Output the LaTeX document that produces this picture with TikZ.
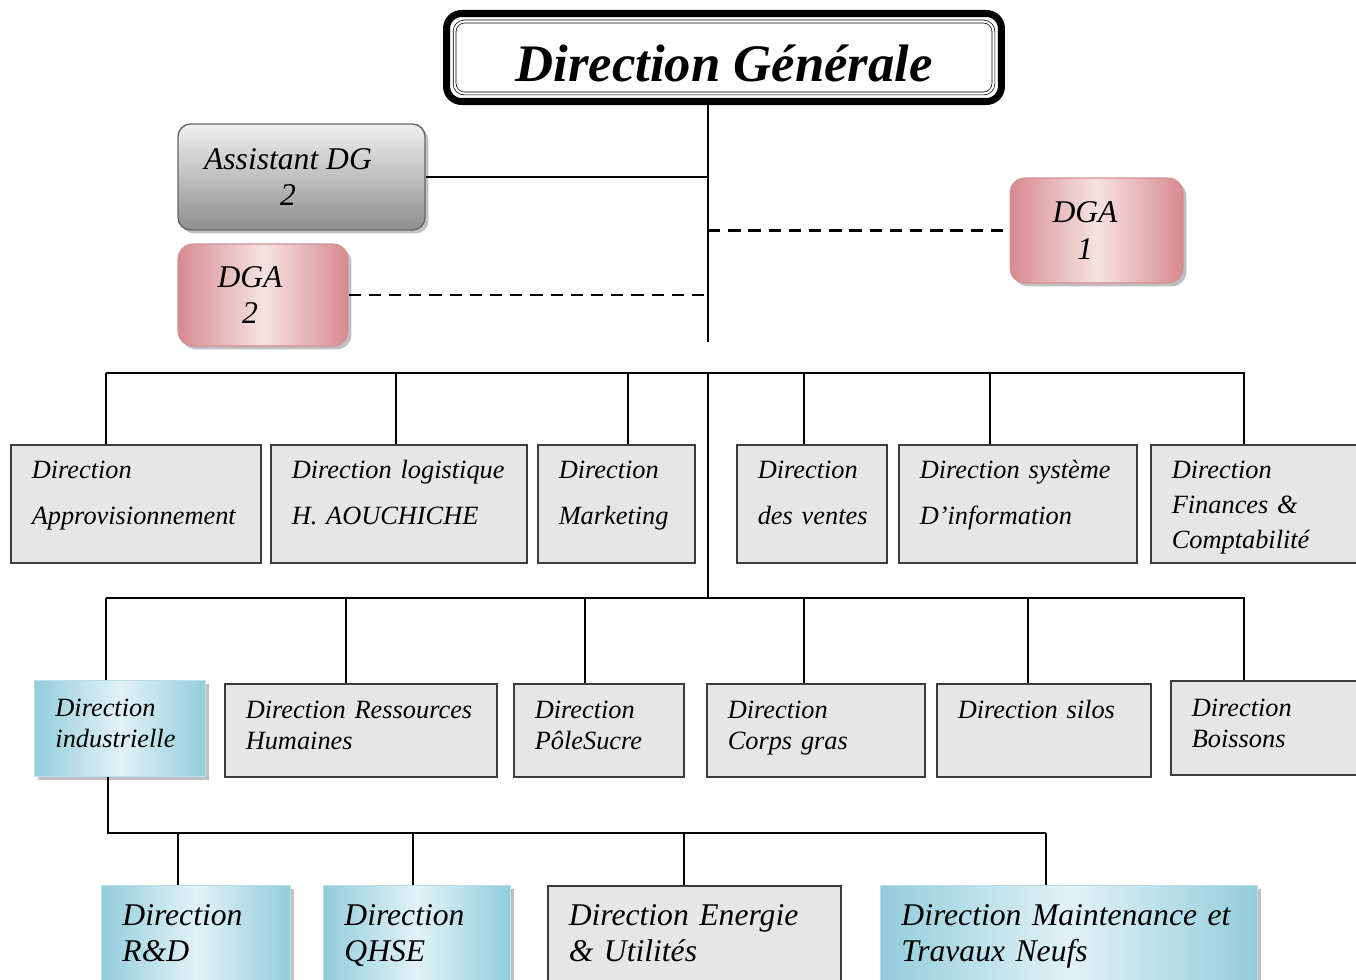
\documentclass[tikz,border=0pt]{standalone}
\usepackage{fontspec}
\setmainfont{Liberation Serif}
\usetikzlibrary{shadows}
\hyphenpenalty=10000

\definecolor{grisfond}{HTML}{E6E6E6}
\definecolor{grisbord}{HTML}{3C3C3C}
\definecolor{bleufonce}{HTML}{93CDDC}
\definecolor{bleuclair}{HTML}{E2F2F6}
\definecolor{bleubord}{HTML}{B9DEE8}
\definecolor{rosefonce}{HTML}{D88A8F}
\definecolor{roseclair}{HTML}{F6E2E3}
\definecolor{rosebord}{HTML}{D39096}
\definecolor{assisthaut}{HTML}{F0F0F0}
\definecolor{assistbas}{HTML}{8E8E8E}
\definecolor{assistbord}{HTML}{666666}

\tikzset{
    lien/.style={line width=1.1pt},
    pointille/.style={line width=1.4pt, dash pattern=on 7pt off 4.5pt},
    ombre/.style={drop shadow={shadow xshift=0.07cm, shadow yshift=-0.07cm, opacity=0.45, fill=black!55}},
    dirbox/.style={draw=grisbord, line width=0.9pt, fill=grisfond, anchor=north west, inner xsep=0.42cm, inner ysep=0pt, align=left},
    bleubox/.style={dirbox, draw=bleubord, line width=0.5pt, left color=bleufonce, right color=bleufonce, middle color=bleuclair, ombre},
    rosebox/.style={draw=rosebord, line width=0.6pt, rounded corners=0.3cm, left color=rosefonce, right color=rosefonce, middle color=roseclair, ombre},
    assistbox/.style={draw=assistbord, line width=0.8pt, rounded corners=0.25cm, top color=assisthaut, bottom color=assistbas, ombre},
    hauttexte/.style={align=center, inner sep=0pt, font=\itshape\fontsize{18}{21}\selectfont},
    rangA/.style={text height=0.68cm, text depth=1.68cm, font=\itshape\fontsize{15}{26}\selectfont},
    rangB/.style={text height=0.70cm, text depth=1.16cm, font=\itshape\fontsize{15}{17.6}\selectfont},
    rangC/.style={text height=0.80cm, text depth=1.20cm, font=\itshape\fontsize{18}{20.4}\selectfont}
}

\begin{document}
\begin{tikzpicture}[x=0.02cm, y=-0.02cm]
        \useasboundingbox (0,0) rectangle (1356,980);

        % Direction Generale
        \node[draw, line width=4pt, rounded corners=0.3cm, outer sep=0pt, minimum width=11.1cm, minimum height=1.76cm, text height=0.98cm, text depth=0pt, font=\bfseries\itshape\fontsize{30}{36}\selectfont] (dg) at (724,57.5) {Direction Générale};
        \draw[double, double distance=1.2pt, line width=0.4pt, rounded corners=0.2cm] ([xshift=0.16cm, yshift=-0.16cm]dg.north west) rectangle ([xshift=-0.16cm, yshift=0.16cm]dg.south east);

        % Assistant et DGA
        \node[assistbox, minimum width=4.94cm, minimum height=2.12cm] (adg) at (301.5,177) {};
        \node[hauttexte] (adgtxt) at (288,177) {Assistant DG\\2};
        \node[rosebox, minimum width=3.4cm, minimum height=2.04cm] (dga2) at (263,295) {};
        \node[hauttexte] (dga2txt) at (250,295) {DGA\\2};
        \node[rosebox, minimum width=3.46cm, minimum height=2.1cm] (dga1) at (1096.5,230.5) {};
        \node[hauttexte] (dga1txt) at (1085,230.5) {DGA\\1};

        \coordinate (tronc) at (708,342);
        \draw[lien] (dg.south -| tronc) -- (tronc);
        \draw[lien] (adg.east) -- (adg.east -| tronc);
        \draw[pointille] (dga2.east) -- (dga2.east -| tronc);
        \draw[pointille] (dga1.west -| tronc) -- (dga1.west);

        % Premiere rangee
        \node[dirbox, rangA, text width=4.16cm] (appro) at (10,444) {Direction\\Approvisionnement};
        \node[dirbox, rangA, text width=4.28cm] (logi) at (270,444) {Direction~logistique\\H. AOUCHICHE};
        \node[dirbox, rangA, text width=2.30cm] (mark) at (537,444) {Direction\\Marketing};
        \node[dirbox, rangA, text width=2.16cm] (ventes) at (736,444) {Direction\\des~ventes};
        \node[dirbox, rangA, text width=3.92cm] (sysinfo) at (898,444) {Direction~système\\D’information};
        \node[dirbox, rangA, text width=3.56cm, font=\itshape\fontsize{15}{19.8}\selectfont] (fin) at (1150,444) {Direction\\Finances \&\\Comptabilité};

        \coordinate (b1g) at (106,373);
        \coordinate (b1d) at (1245,373);
        \coordinate (b1m) at (708,373);
        \draw[lien] (b1g) -- (b1d);
        \foreach \x/\n in {106/appro, 396/logi, 628/mark, 804/ventes, 990/sysinfo, 1244/fin}
            \draw[lien] (\x,373) -- (\x,373 |- \n.north);

        % Deuxieme rangee
        \node[bleubox, rangB, text width=2.58cm, text height=0.72cm, text depth=1.20cm] (indus) at (34,680) {Direction\\industrielle};
        \node[dirbox, rangB, text width=4.60cm] (rh) at (224,683) {Direction~Ressources\\Humaines};
        \node[dirbox, rangB, text width=2.56cm] (pole) at (513,683) {Direction\\PôleSucre};
        \node[dirbox, rangB, text width=3.52cm] (corps) at (706,683) {Direction\\Corps gras};
        \node[dirbox, rangB, text width=3.44cm] (silos) at (936,683) {Direction silos};
        \node[dirbox, rangB, text width=3.16cm, text height=0.72cm, text depth=1.16cm] (boiss) at (1170,680) {Direction\\Boissons};

        \coordinate (b2g) at (106,598);
        \coordinate (b2d) at (1245,598);
        \coordinate (b2m) at (708,598);
        \draw[lien] (b1m) -- (b2m);
        \draw[lien] (b2g) -- (b2d);
        \foreach \x/\n in {106/indus, 346/rh, 585/pole, 804/corps, 1028/silos, 1244/boiss}
            \draw[lien] (\x,598) -- (\x,598 |- \n.north);

        % Direction industrielle
        \node[bleubox, rangC, text width=2.94cm] (rd) at (101,885) {Direction\\R\&D};
        \node[bleubox, rangC, text width=2.90cm] (qhse) at (323,885) {Direction\\QHSE};
        \node[dirbox, rangC, text width=5.02cm] (energie) at (547,885) {Direction Energie\\\& Utilités};
        \node[bleubox, rangC, text width=6.70cm] (maint) at (880,885) {Direction~Maintenance~et\\Travaux Neufs};

        \coordinate (b3g) at (108,833);
        \coordinate (b3d) at (1046,833);
        \draw[lien] (indus.south -| b3g) -- (b3g) -- (b3d);
        \foreach \x/\n in {178/rd, 413/qhse, 684/energie, 1046/maint}
            \draw[lien] (\x,833) -- (\x,833 |- \n.north);

\end{tikzpicture}
\end{document}
